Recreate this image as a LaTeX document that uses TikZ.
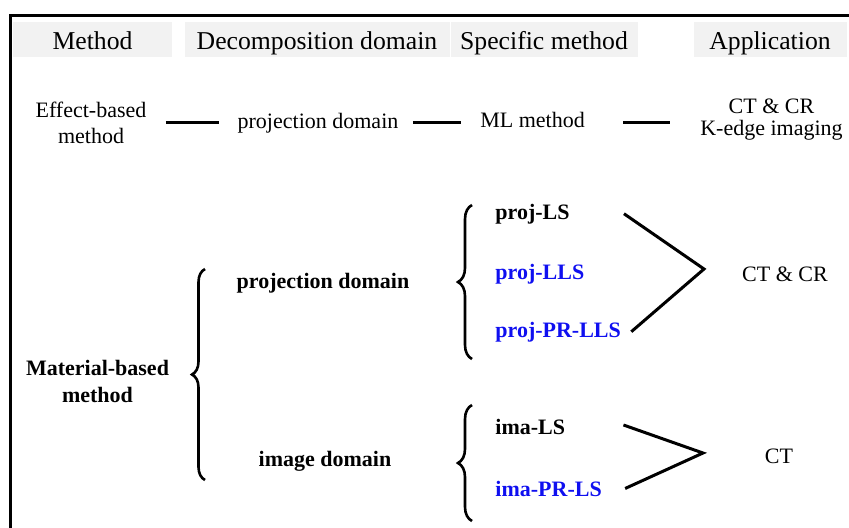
\documentclass[tikz,border=0pt]{standalone}
\usepackage{fontspec}
\setmainfont{Liberation Serif}
\usetikzlibrary{decorations.pathreplacing,calc}
\definecolor{hdrgray}{HTML}{F2F2F2}
\definecolor{mblue}{RGB}{15,15,240}
\begin{document}
\begin{tikzpicture}[x=0.5pt,y=-0.5pt,
  hdr/.style={fill=hdrgray, inner sep=0pt, text height=14pt, text depth=3.5pt, anchor=base, font=\fontsize{12.85}{15}\selectfont},
  txt/.style={inner sep=0pt, font=\fontsize{11}{13}\selectfont, align=center},
  btxt/.style={inner sep=0pt, font=\fontsize{11}{13.5}\selectfont\bfseries, align=center},
  lbl/.style={btxt, anchor=base west},
  dashline/.style={line width=1.5pt},
  angleline/.style={line width=1.5pt},
  bracestyle/.style={line width=1.3pt, decorate, decoration={brace, amplitude=6.5pt}},
  framestyle/.style={line width=1.5pt}
]
\useasboundingbox (0,0) rectangle (849,527);
% frame
\draw[framestyle] (10,540) -- (10,15) -- (860,15);
% header
\node[hdr, minimum width=79.5pt] (h1) at (92.5,49.5) {Method};
\node[hdr, minimum width=132.5pt] (h2) at (317,49.5) {Decomposition domain};
\node[hdr, minimum width=93.5pt] (h3) at (544,49.5) {Specific method};
\node[hdr, minimum width=76.5pt] (h4) at (770,49.5) {Application};
% effect-based row
\node[txt] (eff) at (91,122.5) {Effect-based\\method};
\node[txt, anchor=base] (pd) at (318,128) {projection domain};
\node[txt, anchor=base] (ml) at (532.5,127) {ML method};
\node[txt, font=\fontsize{11}{11.35}\selectfont] (app) at (771.5,119.5) {CT \& CR\\K-edge imaging};
\draw[dashline, shorten <=9.5pt, shorten >=9pt] (eff.east |- pd.center) -- (pd.west);
\draw[dashline, shorten <=7pt, shorten >=9.5pt] (pd.east) -- (ml.west |- pd.east);
\draw[dashline, shorten <=19pt, shorten >=15pt] (ml.east |- pd.east) -- (app.west |- pd.east);
% material-based
\node[btxt] (mat) at (97.5,381) {Material-based\\method};
\draw[bracestyle] (205,480) -- (205,269);
\node[btxt, anchor=base] (pdb) at (323,288) {projection domain};
\node[btxt, anchor=base] (imd) at (325,466) {image domain};
\draw[bracestyle, decoration={amplitude=7pt}] (472,359) -- (472,205);
\draw[bracestyle, decoration={amplitude=7pt}] (472,521) -- (472,405);
% specific methods
\node[lbl] (pls) at (495,219) {proj-LS};
\node[lbl, text=mblue] (plls) at (495,279) {proj-LLS};
\node[lbl, text=mblue] (pprlls) at (495,337) {proj-PR-LLS};
\node[lbl] (ils) at (495,434) {ima-LS};
\node[lbl, text=mblue] (iprls) at (495,496) {ima-PR-LS};
% applications
\node[txt, anchor=base] (app1) at (785,281) {CT \& CR};
\node[txt, anchor=base] (app2) at (779,463) {CT};
% angle connectors
\coordinate (v1) at (704,269);
\coordinate (v2) at (703,453);
\draw[angleline] ($(pls.east)+(54,0)$) -- (v1) -- ($(pprlls.east)+(10,0)$);
\draw[angleline] ($(ils.east)+(58,-1.5)$) -- (v2) -- ($(iprls.east)+(23,0)$);
\end{tikzpicture}
\end{document}
